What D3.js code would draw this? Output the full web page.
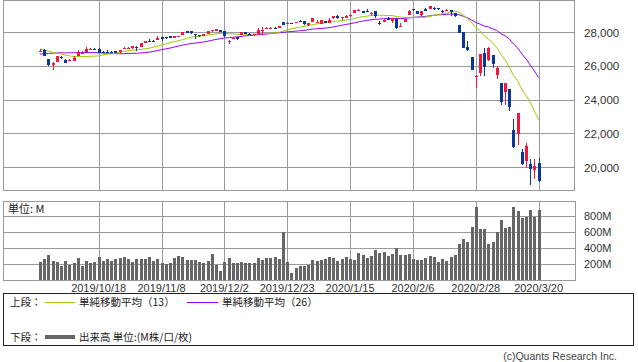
<!DOCTYPE html>
<html><head><meta charset="utf-8">
<script src="https://cdn.jsdelivr.net/npm/d3@7"></script>
<style>body{margin:0;background:#fff}svg{display:block}</style>
</head><body><svg id="c" width="638" height="362"></svg>
<script>
const dates = ["2019/9/30","2019/10/1","2019/10/2","2019/10/3","2019/10/4","2019/10/7","2019/10/8","2019/10/9","2019/10/10","2019/10/11","2019/10/14","2019/10/15","2019/10/16","2019/10/17","2019/10/18","2019/10/21","2019/10/22","2019/10/23","2019/10/24","2019/10/25","2019/10/28","2019/10/29","2019/10/30","2019/10/31","2019/11/1","2019/11/4","2019/11/5","2019/11/6","2019/11/7","2019/11/8","2019/11/11","2019/11/12","2019/11/13","2019/11/14","2019/11/15","2019/11/18","2019/11/19","2019/11/20","2019/11/21","2019/11/22","2019/11/25","2019/11/26","2019/11/27","2019/11/29","2019/12/2","2019/12/3","2019/12/4","2019/12/5","2019/12/6","2019/12/9","2019/12/10","2019/12/11","2019/12/12","2019/12/13","2019/12/16","2019/12/17","2019/12/18","2019/12/19","2019/12/20","2019/12/23","2019/12/24","2019/12/26","2019/12/27","2019/12/30","2019/12/31","2020/1/2","2020/1/3","2020/1/6","2020/1/7","2020/1/8","2020/1/9","2020/1/10","2020/1/13","2020/1/14","2020/1/15","2020/1/16","2020/1/17","2020/1/21","2020/1/22","2020/1/23","2020/1/24","2020/1/27","2020/1/28","2020/1/29","2020/1/30","2020/1/31","2020/2/3","2020/2/4","2020/2/5","2020/2/6","2020/2/7","2020/2/10","2020/2/11","2020/2/12","2020/2/13","2020/2/14","2020/2/18","2020/2/19","2020/2/20","2020/2/21","2020/2/24","2020/2/25","2020/2/26","2020/2/27","2020/2/28","2020/3/2","2020/3/3","2020/3/4","2020/3/5","2020/3/6","2020/3/9","2020/3/10","2020/3/11","2020/3/12","2020/3/13","2020/3/16","2020/3/17","2020/3/18","2020/3/19","2020/3/20"];

const opens = [26852,26962,26425,26040,26258,26558,26346,26270,26280,26589,26780,26820,26990,27031,27011,26850,26849,26840,26860,26815,27020,27050,27080,27150,27129,27400,27500,27510,27540,27690,27720,27760,27640,27757,27843,28050,28080,27880,27840,27830,27900,28080,28130,28109,28060,27460,27590,27700,27840,27990,27900,27880,27900,28120,28190,28240,28270,28270,28590,28500,28560,28539,28676,28654,28418,28638,28553,28466,28639,28556,28851,28975,28819,28880,28940,29145,29330,29240,29263,29081,29240,28542,28600,28820,28640,28813,28319,28627,29048,29393,29286,29020,29390,29406,29436,29440,29280,29279,29320,29167,28403,28027,27126,26536,25320,25590,26762,26383,26671,25457,24992,24453,24605,22184,21973,20917,20345,20190,19811,20253];
const highs = [26998,26984,26425,26212,26611,26606,26403,26401,26565,26956,26864,27118,27047,27095,27040,26892,26925,26860,26871,26970,27130,27120,27190,27155,27381,27502,27574,27534,27775,27700,27722,27760,27800,27795,28036,28055,28090,27880,27850,27900,28084,28122,28175,28110,28069,27550,27725,27745,28015,28010,27945,27924,28224,28290,28337,28290,28300,28377,28608,28582,28576,28621,28701,28664,28538,28873,28749,28709,28685,28866,28960,29009,28908,29030,29064,29300,29374,29251,29373,29178,29241,28644,28809,28894,28870,28836,28552,28808,29291,29394,29286,29277,29416,29569,29480,29448,29303,29409,29335,29167,28403,28027,27500,26536,25450,26706,27084,27102,26671,26000,24992,25018,24605,22837,23186,21050,21434,20480,20460,20531];
const lows = [26852,26574,25975,25743,26258,26430,26156,26270,26280,26589,26751,26820,26942,26920,26750,26770,26785,26745,26747,26787,27000,27040,27000,26917,27129,27400,27457,27445,27540,27502,27621,27642,27640,27715,27843,27975,27900,27618,27700,27781,27900,28030,28110,28032,27732,27325,27590,27558,27840,27892,27815,27863,27865,27860,28190,28200,28225,28258,28413,28500,28490,28525,28608,28429,28376,28627,28535,28466,28565,28556,28790,28758,28753,28881,28909,29145,29284,29123,29186,28958,28856,28440,28600,28730,28522,28169,28319,28627,29048,29239,29068,28990,29232,29406,29337,29313,29137,29279,28991,28902,27941,27046,26899,25767,24681,25391,25400,26286,25900,25226,23706,23690,23300,21155,21285,20116,19938,18917,19280,19094];
const closes = [26916.83,26573.04,26078.62,26201.04,26573.72,26478.02,26164.04,26346.01,26496.67,26816.59,26787.36,27024.80,27001.98,27025.88,26770.20,26827.64,26788.10,26833.95,26805.53,26958.06,27090.72,27071.46,27186.69,27046.23,27347.36,27462.11,27492.63,27492.56,27674.80,27681.24,27691.49,27691.49,27783.59,27781.96,28004.89,28036.22,27934.02,27821.09,27766.29,27875.62,28066.47,28121.68,28164.00,28051.41,27783.04,27502.81,27649.78,27677.79,28015.06,27909.60,27881.72,27911.30,28132.05,28135.38,28235.89,28267.16,28239.28,28376.96,28455.09,28551.53,28515.45,28621.39,28645.26,28462.14,28538.44,28868.80,28634.88,28703.38,28583.68,28745.09,28956.90,28823.77,28907.05,28939.67,29030.22,29297.64,29348.10,29196.04,29186.27,29160.09,28989.73,28535.80,28722.85,28734.45,28859.44,28256.03,28399.81,28807.63,29290.85,29379.77,29102.51,29276.82,29276.34,29551.42,29423.31,29398.08,29232.19,29348.03,29219.98,28992.41,27960.80,27081.36,26957.59,25766.64,25409.36,26703.32,25917.41,27090.86,26121.28,25864.78,23851.02,25018.16,23553.22,21200.62,23185.62,20188.52,21237.38,19898.92,20087.19,19173.98];
const volumes = [229,266,316,245,229,183,241,195,216,279,183,241,216,229,291,245,266,245,266,283,291,266,229,266,266,266,291,241,266,212,208,216,279,304,291,258,258,258,229,216,241,329,195,120,229,279,216,216,229,216,216,216,279,254,283,283,291,266,604,229,91,154,179,179,191,254,241,254,266,291,279,241,266,291,266,254,341,316,279,304,379,341,354,304,329,404,316,316,329,266,254,254,279,304,291,229,266,241,291,316,454,516,479,666,916,641,641,454,479,604,754,654,666,916,866,779,791,879,791,879];
// closes of the 25 sessions before the first bar (for the moving averages)
const priorCloses = [25628.90,25898.83,25777.90,26036.10,26362.25,26403.28,26118.02,26355.47,26728.15,26797.46,26835.51,26909.43,27137.04,27182.45,27219.52,27076.82,27110.80,27147.08,27094.79,26935.07,26949.99,26807.77,26970.71,26891.12,26820.25];
const priceTicks = [20000,22000,24000,26000,28000];
const volumeTicks = [200,400,600,800];
const tickDates = ["2019/10/18","2019/11/8","2019/12/2","2019/12/23","2020/1/15","2020/2/6","2020/2/28","2020/3/20"];

(function () {
const svg = d3.select('#c');
const font = '"Liberation Sans", Arial, sans-serif';
const jfont = '"Noto Sans CJK JP", sans-serif';
const gridC = '#9a9a9a', upC = '#f5163f', dnC = '#0b3694', ma13C = '#99cc00', ma26C = '#9900ff', volC = '#666666';
const L = 3, R = 574;

const x = d3.scalePoint().domain(dates).range([40, 538.6]);
const y = d3.scaleLinear().domain([18640, 29914]).range([190, 0]);
const yv = d3.scaleLinear().domain([0, 987.5]).range([280.3, 201.3]);
const px = v => Math.round(v) + 0.5;

// ---------- price panel ----------
const gTop = svg.append('g');
priceTicks.forEach(t => {
  gTop.append('line').attr('x1', L).attr('x2', R).attr('y1', px(y(t))).attr('y2', px(y(t)))
    .attr('stroke', gridC).attr('shape-rendering', 'crispEdges');
  svg.append('text').attr('x', 584).attr('y', y(t) + 4.5).attr('font-family', font).attr('font-size', 11.5)
    .attr('fill', '#333').text(d3.format(',')(t));
});
tickDates.forEach(d => {
  gTop.append('line').attr('x1', px(x(d))).attr('x2', px(x(d))).attr('y1', 0).attr('y2', 190)
    .attr('stroke', gridC).attr('shape-rendering', 'crispEdges');
});
gTop.append('rect').attr('x', L + 0.5).attr('y', 0.5).attr('width', R - L).attr('height', 190)
  .attr('fill', 'none').attr('stroke', gridC).attr('shape-rendering', 'crispEdges');

// moving averages
const all = priorCloses.concat(closes);
const np = priorCloses.length;
function sma(n) {
  return dates.map((d, i) => ({ d, v: d3.mean(all.slice(i + np - n + 1, i + np + 1)) }));
}
const line = d3.line().x(p => x(p.d)).y(p => y(p.v));
gTop.append('path').datum(sma(26)).attr('d', line).attr('fill', 'none').attr('stroke', ma26C).attr('stroke-width', 1);
gTop.append('path').datum(sma(13)).attr('d', line).attr('fill', 'none').attr('stroke', ma13C).attr('stroke-width', 1);

// candles
dates.forEach((d, i) => {
  const c = closes[i] >= opens[i] ? upC : dnC;
  const cx = Math.round(x(d));
  gTop.append('line').attr('x1', cx + 0.5).attr('x2', cx + 0.5).attr('y1', y(highs[i])).attr('y2', y(lows[i]))
    .attr('stroke', c).attr('stroke-width', 1).attr('shape-rendering', 'crispEdges');
  const y0 = Math.min(y(opens[i]), y(closes[i])), y1 = Math.max(y(opens[i]), y(closes[i]));
  gTop.append('rect').attr('x', cx - 1).attr('width', 3).attr('y', y0).attr('height', Math.max(1.2, y1 - y0))
    .attr('fill', c).attr('shape-rendering', 'crispEdges');
});

// ---------- volume panel ----------
const vol = svg.append('g');
volumeTicks.forEach(t => {
  vol.append('line').attr('x1', L).attr('x2', R + 1).attr('y1', px(yv(t))).attr('y2', px(yv(t)))
    .attr('stroke', gridC).attr('shape-rendering', 'crispEdges');
  svg.append('text').attr('x', 584).attr('y', yv(t) + 4).attr('font-family', font).attr('font-size', 11)
    .attr('fill', '#333').text(t + 'M');
});
tickDates.forEach(d => {
  vol.append('line').attr('x1', px(x(d))).attr('x2', px(x(d))).attr('y1', 201).attr('y2', 280)
    .attr('stroke', gridC).attr('shape-rendering', 'crispEdges');
  svg.append('text').attr('x', x(d)).attr('y', 291.5).attr('text-anchor', 'middle').attr('font-family', font)
    .attr('font-size', 11).attr('fill', '#333').text(d);
});
vol.append('rect').attr('x', L + 0.5).attr('y', 201.5).attr('width', R - L + 1).attr('height', 79)
  .attr('fill', 'none').attr('stroke', gridC).attr('shape-rendering', 'crispEdges');
vol.selectAll('rect.v').data(dates).enter().append('rect').attr('class', 'v')
  .attr('x', d => Math.round(x(d)) - 1).attr('width', 3)
  .attr('y', (d, i) => yv(volumes[i])).attr('height', (d, i) => yv(0) - yv(volumes[i]))
  .attr('fill', volC).attr('shape-rendering', 'crispEdges');
svg.append('text').attr('x', 8).attr('y', 213).attr('font-family', jfont).attr('font-size', 11)
  .attr('fill', '#222').text('単位: M');

// ---------- legend ----------
const lg = svg.append('g');
lg.append('rect').attr('x', 3.5).attr('y', 293.5).attr('width', 630).attr('height', 52)
  .attr('fill', 'none').attr('stroke', '#222').attr('shape-rendering', 'crispEdges');
const r1 = 302, r2 = 337;
const t = (xx, yy, s) => lg.append('text').attr('x', xx).attr('y', yy).attr('font-family', jfont)
  .attr('font-size', 10.5).attr('fill', '#222').text(s);
t(10, r1 + 4, '上段：');
lg.append('line').attr('x1', 45).attr('x2', 75).attr('y1', r1 + 0.5).attr('y2', r1 + 0.5).attr('stroke', ma13C);
t(79, r1 + 4, '単純移動平均（13）');
lg.append('line').attr('x1', 187).attr('x2', 218).attr('y1', r1 + 0.5).attr('y2', r1 + 0.5).attr('stroke', ma26C);
t(222, r1 + 4, '単純移動平均（26）');
t(10, r2 + 4, '下段：');
lg.append('line').attr('x1', 45).attr('x2', 75).attr('y1', r2).attr('y2', r2).attr('stroke', volC).attr('stroke-width', 4);
t(79, r2 + 4, '出来高 単位:(M株/口/枚)');
svg.append('text').attr('x', 617).attr('y', 360).attr('text-anchor', 'end').attr('font-family', font)
  .attr('font-size', 10.5).attr('fill', '#444').text('(c)Quants Research Inc.');
})();
</script></body></html>
